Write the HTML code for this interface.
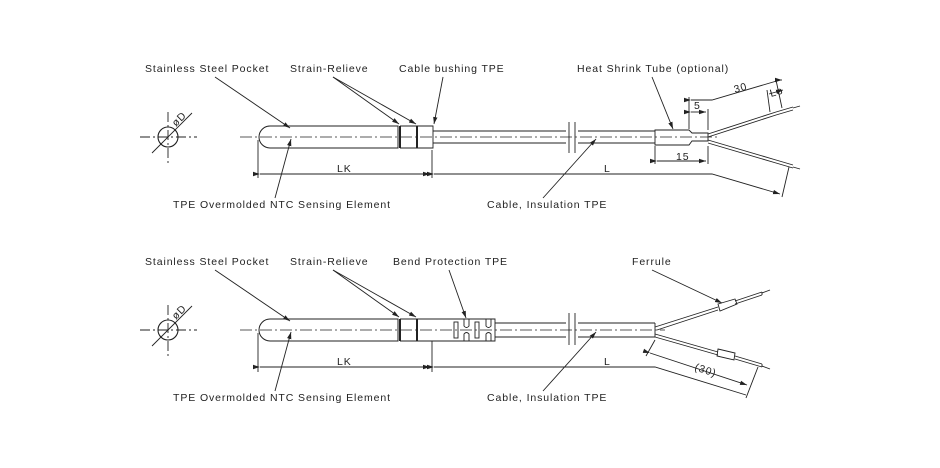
<!DOCTYPE html>
<html><head><meta charset="utf-8"><style>
html,body{margin:0;padding:0;background:#fff}
svg{display:block}
text{font-family:"Liberation Sans",sans-serif;font-size:10.5px;fill:#222;letter-spacing:0.9px}
</style></head><body>
<svg width="940" height="468" viewBox="0 0 940 468" xmlns="http://www.w3.org/2000/svg">
<defs>
<marker id="ar" markerWidth="8" markerHeight="6" refX="7" refY="3" orient="auto" markerUnits="userSpaceOnUse"><path d="M0,0.8 L7,3 L0,5.2 z" fill="#222"/></marker>
</defs>
<g stroke="#222" fill="none" stroke-width="0.9">
<g>
<line x1="140" y1="137" x2="197" y2="137" stroke-dasharray="10,3,2,3"/>
<line x1="168" y1="112" x2="168" y2="163" stroke-dasharray="10,3,2,3"/>
<circle cx="168" cy="137" r="10" stroke-width="1.1"/>
<line x1="152" y1="153" x2="192" y2="113"/>
<path d="M270,126 L398,126 L398,148 L270,148 A11,11 0 0 1 270,126 Z" stroke-width="1"/>
<line x1="400" y1="126" x2="400" y2="148" stroke-width="2"/>
<line x1="417" y1="126" x2="417" y2="148" stroke-width="2"/>
<path d="M400,126 L433,126 L433,148 L400,148"/>
<line x1="433" y1="131" x2="655" y2="131"/>
<line x1="433" y1="143" x2="655" y2="143"/>
<rect x="566" y="124" width="12" height="26" fill="#fff" stroke="none"/>
<line x1="569" y1="122" x2="569" y2="153"/>
<line x1="575" y1="122" x2="575" y2="153"/>
<path d="M655,130 L689,130 L692,133 L708,133 L708,141 L692,141 L689,145 L655,145 Z"/>
<path d="M708,134 L776,112 M708,137 L776,115 M776,112 L793,107 M776,115 L793,110"/>
<path d="M708,140 L776,160 M708,143 L776,163 M776,160 L793,165 M776,163 L793,168"/>
<line x1="793" y1="108" x2="800" y2="106"/>
<line x1="793" y1="167" x2="800" y2="169"/>
<line x1="240" y1="137" x2="720" y2="137" stroke-dasharray="12,3,2,3" stroke-width="0.7"/>
<line x1="258" y1="140" x2="258" y2="178"/>
<line x1="432" y1="150" x2="432" y2="178"/>
<line x1="260" y1="174" x2="430" y2="174" marker-start="url(#ar)" marker-end="url(#ar)"/>
<path d="M434,174 L712,174 L780,194" marker-start="url(#ar)" marker-end="url(#ar)"/>
<line x1="789" y1="167" x2="782" y2="197"/>
<line x1="708" y1="146" x2="708" y2="164"/>
<line x1="655" y1="146" x2="655" y2="164"/>
<line x1="657" y1="161" x2="706" y2="161" marker-start="url(#ar)" marker-end="url(#ar)"/>
<line x1="689" y1="129" x2="689" y2="97"/>
<line x1="708" y1="130" x2="708" y2="109"/>
<line x1="691" y1="112" x2="706" y2="112" marker-start="url(#ar)" marker-end="url(#ar)"/>
<path d="M691,100 L712,100 L780,80" marker-start="url(#ar)"/>
<line x1="780" y1="80" x2="782" y2="80" marker-end="url(#ar)"/>
<line x1="782" y1="108" x2="776" y2="80"/>
<line x1="770" y1="112" x2="767" y2="90"/>
<line x1="769" y1="94" x2="783" y2="90" marker-end="url(#ar)"/>
<path d="M215,77 L290,128" marker-end="url(#ar)"/>
<path d="M333,77 L399,124" marker-end="url(#ar)"/>
<path d="M333,77 L416,124" marker-end="url(#ar)"/>
<path d="M443,77 L434,124" marker-end="url(#ar)"/>
<path d="M652,77 L673,129" marker-end="url(#ar)"/>
<path d="M275,198 L291,139" marker-end="url(#ar)"/>
<path d="M543,198 L596,139" marker-end="url(#ar)"/>
</g>
<g>
<line x1="140" y1="330" x2="197" y2="330" stroke-dasharray="10,3,2,3"/>
<line x1="168" y1="305" x2="168" y2="356" stroke-dasharray="10,3,2,3"/>
<circle cx="168" cy="330" r="10" stroke-width="1.1"/>
<line x1="152" y1="346" x2="192" y2="306"/>
<path d="M270,319 L398,319 L398,341 L270,341 A11,11 0 0 1 270,319 Z" stroke-width="1"/>
<line x1="400" y1="319" x2="400" y2="341" stroke-width="2"/>
<line x1="417" y1="319" x2="417" y2="341" stroke-width="2"/>
<path d="M400,319 L495,319 L495,341 L400,341"/>
<rect x="454" y="322" width="4" height="16"/>
<rect x="475" y="322" width="4" height="16"/>
<path d="M464,319 L464,326 Q466.5,329 469,326 L469,319 M464,341 L464,334 Q466.5,331 469,334 L469,341"/>
<path d="M486,319 L486,326 Q488.5,329 491,326 L491,319 M486,341 L486,334 Q488.5,331 491,334 L491,341"/>
<line x1="495" y1="323" x2="655" y2="323"/>
<line x1="495" y1="337" x2="655" y2="337"/>
<line x1="655" y1="323" x2="655" y2="337"/>
<rect x="566" y="316" width="12" height="26" fill="#fff" stroke="none"/>
<line x1="569" y1="313" x2="569" y2="345"/>
<line x1="575" y1="313" x2="575" y2="345"/>
<path d="M655,327 L718,307 M657,330 L718,310 M735,301 L762,292 M735,304 L762,295 M762,292 L762,295"/>
<path d="M718,304 L735,299 L737,304 L720,311 Z"/>
<line x1="762" y1="293" x2="770" y2="290"/>
<path d="M655,334 L718,352 M655,337 L718,355 M735,356 L762,364 M735,359 L762,367 M762,364 L762,367"/>
<path d="M718,349 L735,353 L734,360 L717,356 Z"/>
<line x1="762" y1="366" x2="770" y2="369"/>
<line x1="240" y1="330" x2="665" y2="330" stroke-dasharray="12,3,2,3" stroke-width="0.7"/>
<line x1="258" y1="333" x2="258" y2="372"/>
<line x1="432" y1="341" x2="432" y2="372"/>
<line x1="260" y1="367" x2="430" y2="367" marker-start="url(#ar)" marker-end="url(#ar)"/>
<path d="M434,367 L655,367 L746,395" marker-start="url(#ar)"/>
<line x1="655" y1="340" x2="646" y2="356"/>
<line x1="758" y1="367" x2="746" y2="398"/>
<line x1="650" y1="353" x2="747" y2="385" marker-start="url(#ar)" marker-end="url(#ar)"/>
<path d="M215,270 L290,321" marker-end="url(#ar)"/>
<path d="M333,270 L399,317" marker-end="url(#ar)"/>
<path d="M333,270 L416,317" marker-end="url(#ar)"/>
<path d="M449,270 L466,318" marker-end="url(#ar)"/>
<path d="M652,270 L722,303" marker-end="url(#ar)"/>
<path d="M275,391 L291,332" marker-end="url(#ar)"/>
<path d="M543,391 L596,332" marker-end="url(#ar)"/>
</g>
</g>
<text x="145" y="72">Stainless Steel Pocket</text>
<text x="290" y="72">Strain-Relieve</text>
<text x="399" y="72">Cable bushing TPE</text>
<text x="577" y="72">Heat Shrink Tube (optional)</text>
<text x="173" y="208">TPE Overmolded NTC Sensing Element</text>
<text x="487" y="208">Cable, Insulation TPE</text>
<text x="337" y="172">LK</text>
<text x="604" y="172">L</text>
<text x="676" y="160" font-size="8.5">15</text>
<text x="694" y="109" font-size="8.5">5</text>
<text x="735" y="93" font-size="8.5" transform="rotate(-16 735 93)">30</text>
<text x="771" y="97" font-size="7" transform="rotate(-16 771 97)">Lo</text>
<text x="176" y="127" font-size="7" transform="rotate(-45 176 127)">øD</text>
<text x="145" y="265">Stainless Steel Pocket</text>
<text x="290" y="265">Strain-Relieve</text>
<text x="393" y="265">Bend Protection TPE</text>
<text x="632" y="265">Ferrule</text>
<text x="173" y="401">TPE Overmolded NTC Sensing Element</text>
<text x="487" y="401">Cable, Insulation TPE</text>
<text x="337" y="365">LK</text>
<text x="604" y="365">L</text>
<text x="694" y="370" font-size="8.5" transform="rotate(18 694 370)">(30)</text>
<text x="176" y="320" font-size="7" transform="rotate(-45 176 320)">øD</text>
</svg>
</body></html>
